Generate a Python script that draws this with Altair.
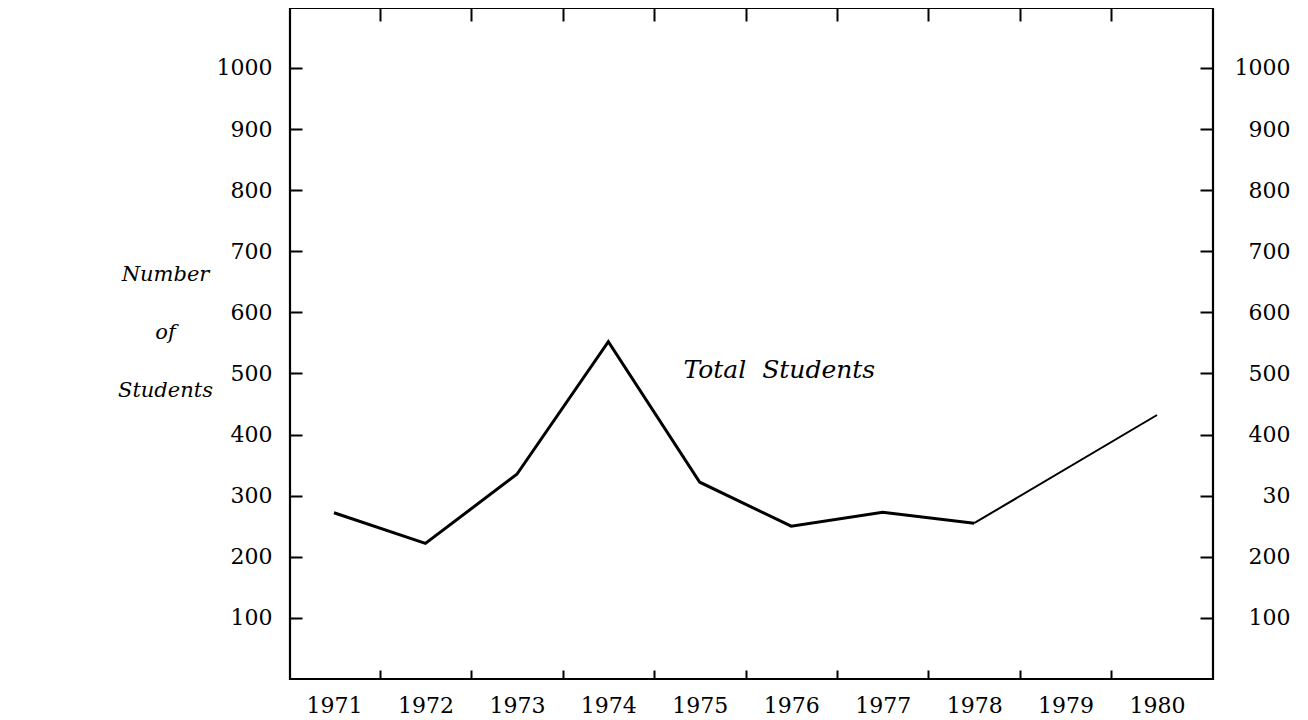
import altair as alt
import pandas as pd

# ---- data ----
years_main = [1971, 1972, 1973, 1974, 1975, 1976, 1977, 1978]
students_main = [272, 222, 335, 552, 322, 250, 273, 255]
years_tail = [1978, 1980]
students_tail = [255, 432]

year_labels = [1971, 1972, 1973, 1974, 1975, 1976, 1977, 1978, 1979, 1980]
year_ticks = [1971.5, 1972.5, 1973.5, 1974.5, 1975.5, 1976.5, 1977.5, 1978.5, 1979.5]
y_values = [100, 200, 300, 400, 500, 600, 700, 800, 900, 1000]
right_labels = ["100", "200", "30", "400", "500", "600", "700", "800", "900", "1000"]
y_title = ["Number", "of", "Students"]

note_text = ["Total\u00a0\u00a0Students"]
note_x = [1975.87]
note_y = [506]

# ---- layout ----
W, H = 923, 671
XDOM = [1970.519, 1980.612]
YDOM = [0, 1098]
FONT = "DejaVu Serif"
FS = 22

main_df = pd.DataFrame({"year": years_main, "students": students_main})
tail_df = pd.DataFrame({"year": years_tail, "students": students_tail})
note_df = pd.DataFrame({"year": note_x, "students": note_y, "text": note_text})

right_expr = "''"
for v, l in reversed(list(zip(y_values, right_labels))):
    right_expr = f"datum.value == {v} ? '{l}' : ({right_expr})"


def X(axis):
    return alt.X("year:Q", scale=alt.Scale(domain=XDOM, nice=False, zero=False), axis=axis)


def Y(axis):
    return alt.Y("students:Q", scale=alt.Scale(domain=YDOM, nice=False, zero=False), axis=axis)


common = dict(grid=False, domain=False, tickColor="black", tickWidth=2,
              labelColor="black", labelFont=FONT, labelFontSize=FS)

x_labels_axis = alt.Axis(orient="bottom", values=year_labels, format="d", ticks=False,
                         tickSize=0, labelPadding=16, title=None, **common)
y_left_axis = alt.Axis(orient="left", values=y_values, format="d", ticks=False, tickSize=0,
                       labelPadding=18, title=y_title, titleAngle=0, titleX=-125, titleY=272,
                       titleAlign="center", titleBaseline="alphabetic", titleFont=FONT,
                       titleFontStyle="italic", titleFontWeight="normal", titleFontSize=21,
                       titleColor="black", titleLineHeight=58, **common)
x_bottom_in = alt.Axis(orient="top", offset=-H, values=year_ticks, labels=False,
                       tickSize=9, title=None, **common)
y_right_axis = alt.Axis(orient="right", values=y_values, ticks=False, tickSize=0,
                        labelPadding=77, labelAlign="right", labelExpr=right_expr,
                        title=None, **common)
x_top_in = alt.Axis(orient="bottom", offset=-H, values=year_ticks, labels=False,
                    tickSize=13, title=None, **common)
y_left_in = alt.Axis(orient="right", offset=-W, values=y_values, labels=False,
                     tickSize=12, title=None, **common)
y_right_in = alt.Axis(orient="left", offset=-W, values=y_values, labels=False,
                      tickSize=13, title=None, **common)

l1 = alt.Chart(main_df).mark_line(color="black", strokeWidth=3, strokeJoin="miter").encode(
    x=X(x_labels_axis), y=Y(y_left_axis))
l2 = alt.Chart(tail_df).mark_line(color="black", strokeWidth=2).encode(
    x=X(x_bottom_in), y=Y(y_right_axis))
l3 = alt.Chart(main_df).mark_point(opacity=0).encode(
    x=X(x_top_in), y=Y(y_left_in))
l4 = alt.Chart(main_df).mark_point(opacity=0).encode(
    x=X(None), y=Y(y_right_in))
l5 = alt.Chart(note_df).mark_text(font=FONT, fontStyle="italic", fontSize=25, color="black",
                                  align="center", baseline="middle").encode(
    x=X(None), y=Y(None), text="text:N")

chart = alt.layer(l1, l2, l3, l4, l5).resolve_scale(x="independent", y="independent").properties(
    width=W, height=H,
    autosize=alt.AutoSizeParams(type="none"),
    padding={"left": 282, "top": 0, "right": 80, "bottom": 40},
    background="white",
).configure_view(stroke="black", strokeWidth=2.2)

chart.save("out.html", embed_options={"renderer": "svg", "actions": False})
